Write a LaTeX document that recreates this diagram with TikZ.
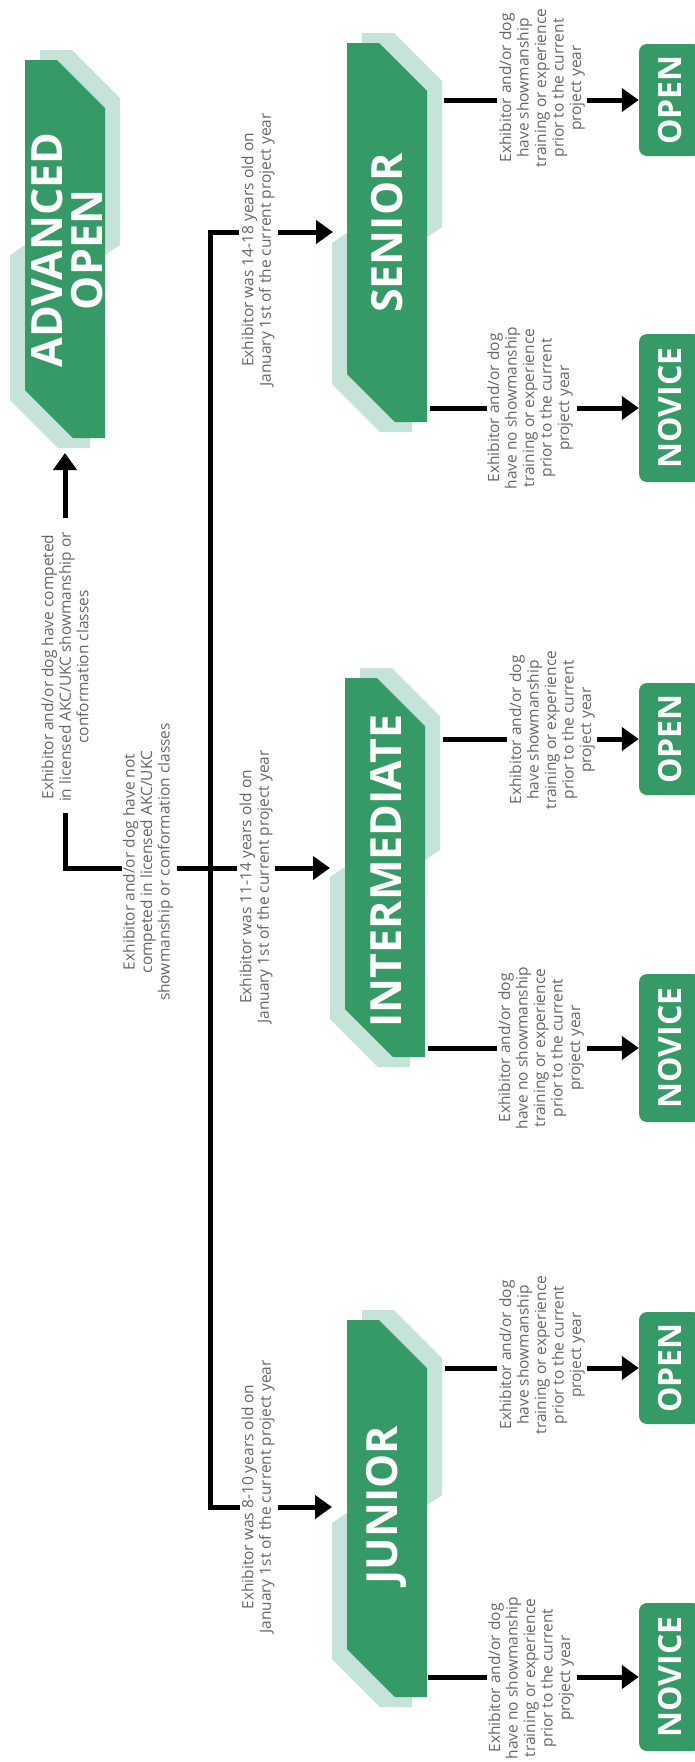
\documentclass[tikz,border=0pt]{standalone}
\usepackage{fontspec}
\setmainfont{Open Sans}
\usetikzlibrary{arrows.meta}
\definecolor{dkgreen}{HTML}{359A66}
\definecolor{ltgreen}{HTML}{C6E3D9}
\definecolor{txtgray}{HTML}{666666}
\newcommand\lblfont{\fontsize{15.5}{17.5}\selectfont}
\newcommand\bigfont{\fontsize{43}{40}\selectfont\bfseries}
\newcommand\clsfont{\fontsize{32}{32}\selectfont\bfseries}
% x0 y0 y1 ya yb
\newcommand\catshape[5]{%
 \fill[ltgreen] ({#1+15},{#2-10}) -- ({#1+47},{#2-10}) -- ({#1+95},{#2+38}) -- ({#1+95},{#4}) -- ({#1+80},{#4+10}) -- ({#1+15},{#4+10}) -- cycle;
 \fill[ltgreen] (#1,#5) -- ({#1-15},{#5+10}) -- ({#1-15},{#3-38}) -- ({#1+33},{#3+10}) -- ({#1+65},{#3+10}) -- ({#1+65},#5) -- cycle;
 \fill[dkgreen] (#1,#2) -- ({#1+32},#2) -- ({#1+80},{#2+48}) -- ({#1+80},#3) -- ({#1+48},#3) -- (#1,{#3-48}) -- cycle;
}
\begin{document}
\begin{tikzpicture}[x=1pt,y=-1pt,
  lbl/.style={font=\lblfont, text=txtgray, align=center, rotate=90, inner sep=0pt},
  big/.style={font=\bigfont, text=white, align=center, rotate=90, inner sep=0pt},
  cls/.style={fill=dkgreen, text=white, font=\clsfont, rotate=90, rounded corners=8pt, minimum height=62pt, inner sep=0pt},
  opn/.style={cls, minimum width=112pt},
  nov/.style={cls, minimum width=148pt},
  conn/.style={line width=5pt, black},
  arr/.style={conn, -{Triangle[length=17pt,width=23pt]}}]
\useasboundingbox (0,0) rectangle (694,1762);
\fill[white] (0,0) rectangle (694,1762);

% category shapes
\catshape{25}{60}{438}{245}{245}
\catshape{347}{43}{422}{227}{233}
\catshape{345}{678}{1057}{850}{867}
\catshape{347}{1320}{1697}{1495}{1513}

\node[big] (adv) at (67,250) {ADVANCED\\OPEN};
\node[big] (sen) at (387,233) {SENIOR};
\node[big] (int) at (386,871) {INTERMEDIATE};
\node[big] (jun) at (386,1505) {JUNIOR};

% class boxes
\node[opn] (sO) at (670,100) {OPEN};
\node[nov] (sN) at (670,408) {NOVICE};
\node[opn] (iO) at (670,739) {OPEN};
\node[nov] (iN) at (670,1048) {NOVICE};
\node[opn] (jO) at (670,1368) {OPEN};
\node[nov] (jN) at (670,1677) {NOVICE};

% labels
\node[lbl] (tComp) at (65,667) {Exhibitor and/or dog have competed\\in licensed AKC/UKC showmanship or\\conformation classes};
\node[lbl] (tNot) at (148,862) {Exhibitor and/or dog have not\\competed in licensed AKC/UKC\\showmanship or conformation classes};
\node[lbl] (tSen) at (258,250) {Exhibitor was 14-18 years old on\\January 1st of the current project year};
\node[lbl] (tInt) at (256,887) {Exhibitor was 11-14 years old on\\January 1st of the current project year};
\node[lbl] (tJun) at (258,1497) {Exhibitor was 8-10 years old on\\January 1st of the current project year};

\node[lbl] (tsO) at (542,88) {Exhibitor and/or dog\\have showmanship\\training or experience\\prior to the current\\project year};
\node[lbl] (tsN) at (530,408) {Exhibitor and/or dog\\have no showmanship\\training or experience\\prior to the current\\project year};
\node[lbl] (tiO) at (552,730) {Exhibitor and/or dog\\have showmanship\\training or experience\\prior to the current\\project year};
\node[lbl] (tiN) at (541,1048) {Exhibitor and/or dog\\have no showmanship\\training or experience\\prior to the current\\project year};
\node[lbl] (tjO) at (542,1355) {Exhibitor and/or dog\\have showmanship\\training or experience\\prior to the current\\project year};
\node[lbl] (tjN) at (531,1678) {Exhibitor and/or dog\\have no showmanship\\training or experience\\prior to the current\\project year};

% coordinates for connectors
\coordinate (jTop) at (210,232);
\coordinate (jBot) at (210,1507);
\coordinate (gS1) at (239,232);
\coordinate (gS2) at (278,232);
\coordinate (senIn) at (333,232);
\coordinate (gJ1) at (240,1507);
\coordinate (gJ2) at (278,1507);
\coordinate (junIn) at (332,1507);
\coordinate (advIn) at (65,453);
\coordinate (gA1) at (65,518);
\coordinate (gA2) at (65,813);
\coordinate (corner) at (65,868);
\coordinate (gN1) at (122,868);
\coordinate (gN2) at (177,868);
\coordinate (gI1) at (237,868);
\coordinate (gI2) at (275,868);
\coordinate (intIn) at (330,868);

% trunk and branches
\draw[conn] (gS1) -- (jTop) -- (jBot) -- (gJ1);
\draw[arr] (gS2) -- (senIn);
\draw[arr] (gJ2) -- (junIn);
\draw[arr] (gA1) -- (advIn);
\draw[conn] (gA2) -- (corner) -- (gN1);
\draw[conn] (gN2) -- (gI1);
\draw[arr] (gI2) -- (intIn);

% class connectors
\coordinate (sOa) at (444,100); \coordinate (sOb) at (497,100); \coordinate (sOc) at (587,100);
\coordinate (sNa) at (430,408); \coordinate (sNb) at (487,408); \coordinate (sNc) at (577,408);
\coordinate (iOa) at (443,739); \coordinate (iOb) at (507,739); \coordinate (iOc) at (597,739);
\coordinate (iNa) at (428,1048); \coordinate (iNb) at (497,1048); \coordinate (iNc) at (587,1048);
\coordinate (jOa) at (445,1368); \coordinate (jOb) at (497,1368); \coordinate (jOc) at (587,1368);
\coordinate (jNa) at (428,1677); \coordinate (jNb) at (487,1677); \coordinate (jNc) at (577,1677);

\draw[conn] (sOa) -- (sOb); \draw[arr] (sOc) -- (sO);
\draw[conn] (sNa) -- (sNb); \draw[arr] (sNc) -- (sN);
\draw[conn] (iOa) -- (iOb); \draw[arr] (iOc) -- (iO);
\draw[conn] (iNa) -- (iNb); \draw[arr] (iNc) -- (iN);
\draw[conn] (jOa) -- (jOb); \draw[arr] (jOc) -- (jO);
\draw[conn] (jNa) -- (jNb); \draw[arr] (jNc) -- (jN);
\end{tikzpicture}
\end{document}
